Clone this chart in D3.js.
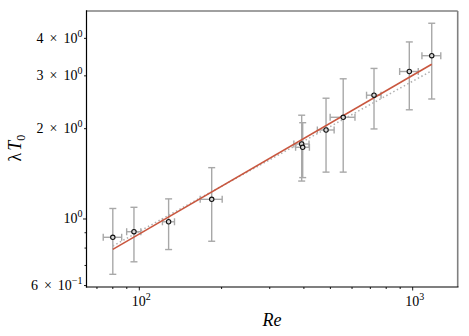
<!DOCTYPE html>
<html><head><meta charset="utf-8">
<script src="https://cdn.jsdelivr.net/npm/d3@7"></script>
<style>body{margin:0;background:#fff}svg{display:block}text{font-family:"Liberation Serif","DejaVu Serif",serif}</style>
</head><body><svg id="c" width="469" height="336"></svg>
<script>
// Data
const re      = [80, 95.6, 128, 184, 392.6, 396, 482, 557, 722, 972, 1174];
const reErr   = [6.2, 5.7, 6.5, 17, 25, 23, 34, 58, 44, 76, 93];
const lamT0   = [0.869, 0.907, 0.979, 1.163, 1.778, 1.734, 1.98, 2.183, 2.586, 3.102, 3.502];
const lamErr  = [0.215, 0.187, 0.188, 0.32, 0.44, 0.36, 0.547, 0.75, 0.59, 0.79, 0.99];
const fitRe     = [80, 1174];
const fitSolid  = [0.792, 3.28];
const fitDotted = [0.813, 3.12];
const yTickVals = [0.6, 1, 2, 3, 4];
const yTickMant = ["6", "", "2", "3", "4"];
const yTickExp  = ["−1", "0", "0", "0", "0"];
const yMinor    = [0.7, 0.8, 0.9];
const xTickVals = [100, 1000];
const xTickExp  = ["2", "3"];
const xMinor    = [70, 80, 90, 200, 300, 400, 500, 600, 700, 800, 900];

const svg = d3.select("#c");
const L = 86.5, R = 457.7, T = 11, B = 287;
const x = d3.scaleLog().domain([64.1, 1461]).range([L, R]);
const y = d3.scaleLog().domain([0.5934, 4.935]).range([B, T]);

// error bars
const eb = svg.append("g").attr("stroke", "#a8a8a8").attr("stroke-width", 1.4).attr("fill", "none");
re.forEach((r, i) => {
  const cx = x(r), cy = y(lamT0[i]);
  const y1 = y(lamT0[i] + lamErr[i]), y2 = y(lamT0[i] - lamErr[i]);
  const x1 = x(r - reErr[i]), x2 = x(r + reErr[i]);
  eb.append("line").attr("x1", cx).attr("x2", cx).attr("y1", y1).attr("y2", y2);
  eb.append("line").attr("x1", cx - 3.5).attr("x2", cx + 3.5).attr("y1", y1).attr("y2", y1);
  eb.append("line").attr("x1", cx - 3.5).attr("x2", cx + 3.5).attr("y1", y2).attr("y2", y2);
  eb.append("line").attr("x1", x1).attr("x2", x2).attr("y1", cy).attr("y2", cy);
  eb.append("line").attr("x1", x1).attr("x2", x1).attr("y1", cy - 3.5).attr("y2", cy + 3.5);
  eb.append("line").attr("x1", x2).attr("x2", x2).attr("y1", cy - 3.5).attr("y2", cy + 3.5);
});

// fit lines
const line = d3.line().x(d => x(d[0])).y(d => y(d[1]));
svg.append("path").attr("d", line(fitRe.map((r, i) => [r, fitDotted[i]])))
  .attr("stroke", "#b0b0b0").attr("stroke-width", 1.5).attr("stroke-dasharray", "1.5,2.5").attr("fill", "none");
svg.append("path").attr("d", line(fitRe.map((r, i) => [r, fitSolid[i]])))
  .attr("stroke", "#c9573f").attr("stroke-width", 1.6).attr("fill", "none");

// markers
svg.append("g").selectAll("circle").data(re).join("circle")
  .attr("cx", d => x(d)).attr("cy", (d, i) => y(lamT0[i])).attr("r", 2.2)
  .attr("fill", "#d8d8d8").attr("stroke", "#111").attr("stroke-width", 1.1);

// spines
svg.append("line").attr("x1", L).attr("x2", R).attr("y1", T).attr("y2", T).attr("stroke", "#808080").attr("stroke-width", 1.6);
svg.append("line").attr("x1", R).attr("x2", R).attr("y1", T).attr("y2", B).attr("stroke", "#808080").attr("stroke-width", 1.6);
svg.append("line").attr("x1", L).attr("x2", L).attr("y1", T - 0.8).attr("y2", B + 0.6).attr("stroke", "#000").attr("stroke-width", 1.2);
svg.append("line").attr("x1", L - 0.6).attr("x2", R + 0.8).attr("y1", B).attr("y2", B).attr("stroke", "#000").attr("stroke-width", 1.2);

// y ticks
const yt = svg.append("g").attr("stroke", "#000").attr("stroke-width", 0.9);
yTickVals.forEach(v => yt.append("line").attr("x1", L - (v === 1 ? 3.5 : 2.5)).attr("x2", L).attr("y1", y(v)).attr("y2", y(v)));
yMinor.forEach(v => yt.append("line").attr("x1", L - 2).attr("x2", L).attr("y1", y(v)).attr("y2", y(v)));
yTickVals.forEach((v, i) => {
  const t = svg.append("text").attr("x", L - 4).attr("y", y(v) + 4.5).attr("text-anchor", "end")
    .attr("font-size", 14).attr("fill", "#000");
  if (yTickMant[i]) {
    t.append("tspan").text(yTickMant[i]);
    t.append("tspan").attr("dx", 6).text("×");
    t.append("tspan").attr("dx", 6).text("10");
  } else {
    t.append("tspan").text("10");
  }
  t.append("tspan").attr("dy", -6).attr("font-size", 10).text(yTickExp[i]);
});

// x ticks
const xt = svg.append("g").attr("stroke", "#000").attr("stroke-width", 0.9);
xTickVals.forEach(v => xt.append("line").attr("x1", x(v)).attr("x2", x(v)).attr("y1", B).attr("y2", B + 3.5));
xMinor.forEach(v => xt.append("line").attr("x1", x(v)).attr("x2", x(v)).attr("y1", B).attr("y2", B + 2));
xTickVals.forEach((v, i) => {
  const t = svg.append("text").attr("x", x(v) + 2).attr("y", 306).attr("text-anchor", "middle")
    .attr("font-size", 14).attr("fill", "#000");
  t.append("tspan").text("10");
  t.append("tspan").attr("dy", -6).attr("font-size", 10).text(xTickExp[i]);
});

// axis labels
svg.append("text").attr("x", 272).attr("y", 326).attr("text-anchor", "middle")
  .attr("font-style", "italic").attr("font-size", 18).text("Re");
const yl = svg.append("text").attr("transform", "translate(21,148) rotate(-90)").attr("text-anchor", "middle")
  .attr("font-size", 18);
yl.append("tspan").text("λ");
yl.append("tspan").attr("font-style", "italic").attr("dx", 2).text("T");
yl.append("tspan").attr("font-size", 12).attr("dy", 4).text("0");
</script></body></html>
